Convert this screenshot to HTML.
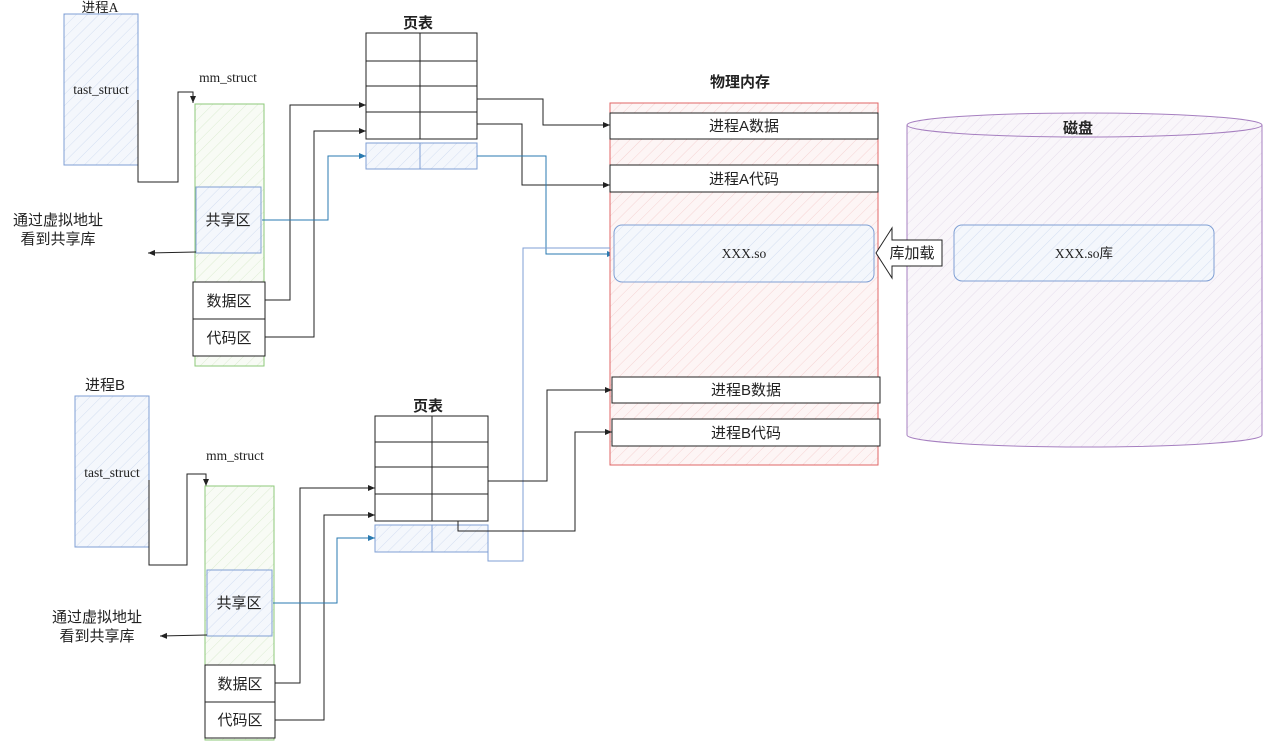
<!DOCTYPE html>
<html><head><meta charset="utf-8"><style>
body{margin:0;background:#fff}
svg{display:block}
text{font-family:"Liberation Sans","Noto Sans CJK SC",sans-serif;font-size:15px;fill:#222}
.s{font-family:"Liberation Serif","Noto Sans CJK SC",serif;font-size:13.5px}
.b{font-weight:bold}
</style></head><body>
<svg width="1265" height="748" viewBox="0 0 1265 748" xmlns="http://www.w3.org/2000/svg">
<defs>
<pattern id="hb" width="8" height="8" patternUnits="userSpaceOnUse" patternTransform="rotate(45)"><rect width="8" height="8" fill="#f4f7fc"/><line x1="0" y1="0" x2="0" y2="8" stroke="#d3def1" stroke-width="1"/></pattern>
<pattern id="hg" width="8" height="8" patternUnits="userSpaceOnUse" patternTransform="rotate(45)"><rect width="8" height="8" fill="#f8fbf5"/><line x1="0" y1="0" x2="0" y2="8" stroke="#dcecd2" stroke-width="1"/></pattern>
<pattern id="hr" width="8" height="8" patternUnits="userSpaceOnUse" patternTransform="rotate(45)"><rect width="8" height="8" fill="#fdf5f5"/><line x1="0" y1="0" x2="0" y2="8" stroke="#f5d3d3" stroke-width="1"/></pattern>
<pattern id="hp" width="8" height="8" patternUnits="userSpaceOnUse" patternTransform="rotate(45)"><rect width="8" height="8" fill="#f9f6fa"/><line x1="0" y1="0" x2="0" y2="8" stroke="#e6ddec" stroke-width="1"/></pattern>
<marker id="a" markerWidth="8" markerHeight="8" refX="7" refY="4" orient="auto" markerUnits="userSpaceOnUse"><path d="M0,1 L7,4 L0,7 Z" fill="#222"/></marker>
<marker id="ab" markerWidth="8" markerHeight="8" refX="7" refY="4" orient="auto" markerUnits="userSpaceOnUse"><path d="M0,1 L7,4 L0,7 Z" fill="#2a7ab0"/></marker>
</defs>

<!-- Process A -->
<text x="100" y="12" text-anchor="middle" class="s">进程A</text>
<rect x="64" y="14" width="74" height="151" fill="url(#hb)" stroke="#7f9fd4"/>
<text x="101" y="94" text-anchor="middle" class="s">tast_struct</text>
<polyline points="138,100 138,182 178,182 178,92 193,92 193,103" fill="none" stroke="#222" marker-end="url(#a)"/>
<text x="228" y="82" text-anchor="middle" class="s">mm_struct</text>
<rect x="195" y="104" width="69" height="262" fill="url(#hg)" stroke="#8ec97a"/>
<rect x="196" y="187" width="65" height="66" fill="url(#hb)" stroke="#7f9fd4"/>
<text x="228" y="225" text-anchor="middle">共享区</text>
<rect x="193" y="282" width="72" height="37" fill="#fff" stroke="#222"/>
<text x="229" y="306" text-anchor="middle">数据区</text>
<rect x="193" y="319" width="72" height="37" fill="#fff" stroke="#222"/>
<text x="229" y="343" text-anchor="middle">代码区</text>
<polyline points="196,252 148,253" fill="none" stroke="#222" marker-end="url(#a)"/>
<text x="58" y="225" text-anchor="middle">通过虚拟地址</text>
<text x="58" y="244" text-anchor="middle">看到共享库</text>

<!-- Page table A -->
<text x="418" y="28" text-anchor="middle" class="b">页表</text>
<g fill="#fff" stroke="#222">
<rect x="366" y="33" width="54" height="28"/><rect x="420" y="33" width="57" height="28"/>
<rect x="366" y="61" width="54" height="25"/><rect x="420" y="61" width="57" height="25"/>
<rect x="366" y="86" width="54" height="26"/><rect x="420" y="86" width="57" height="26"/>
<rect x="366" y="112" width="54" height="27"/><rect x="420" y="112" width="57" height="27"/>
</g>
<rect x="366" y="143" width="54" height="26" fill="url(#hb)" stroke="#7f9fd4"/>
<rect x="420" y="143" width="57" height="26" fill="url(#hb)" stroke="#7f9fd4"/>
<polyline points="265,300 290,300 290,105 366,105" fill="none" stroke="#222" marker-end="url(#a)"/>
<polyline points="265,337 314,337 314,131 366,131" fill="none" stroke="#222" marker-end="url(#a)"/>
<polyline points="262,220 328,220 328,156 366,156" fill="none" stroke="#2a7ab0" marker-end="url(#ab)"/>
<polyline points="477,99 543,99 543,125 610,125" fill="none" stroke="#222" marker-end="url(#a)"/>
<polyline points="477,124 522,124 522,185 610,185" fill="none" stroke="#222" marker-end="url(#a)"/>
<polyline points="477,156 546,156 546,254 614,254" fill="none" stroke="#2a7ab0" marker-end="url(#ab)"/>

<!-- Physical memory -->
<text x="740" y="87" text-anchor="middle" class="b">物理内存</text>
<rect x="610" y="103" width="268" height="362" fill="url(#hr)" stroke="#e06666"/>
<rect x="610" y="113" width="268" height="26" fill="#fff" stroke="#222"/>
<text x="744" y="131" text-anchor="middle">进程A数据</text>
<rect x="610" y="165" width="268" height="27" fill="#fff" stroke="#222"/>
<text x="744" y="184" text-anchor="middle">进程A代码</text>
<rect x="614" y="225" width="260" height="57" rx="8" fill="url(#hb)" stroke="#7f9fd4"/>
<text x="744" y="258" text-anchor="middle" class="s">XXX.so</text>
<rect x="612" y="377" width="268" height="26" fill="#fff" stroke="#222"/>
<text x="746" y="395" text-anchor="middle">进程B数据</text>
<rect x="612" y="419" width="268" height="27" fill="#fff" stroke="#222"/>
<text x="746" y="438" text-anchor="middle">进程B代码</text>

<!-- Disk -->
<path d="M907,125 A177,12 0 0 1 1262,125 L1262,435 A177,12 0 0 1 907,435 Z" fill="url(#hp)" stroke="#a67fc0"/>
<path d="M907,125 A177,12 0 0 0 1262,125" fill="none" stroke="#a67fc0"/>
<text x="1078" y="133" text-anchor="middle" class="b">磁盘</text>
<rect x="954" y="225" width="260" height="56" rx="8" fill="url(#hb)" stroke="#7f9fd4"/>
<text x="1084" y="258" text-anchor="middle" class="s">XXX.so库</text>
<path d="M876,253 L892,228 L892,240 L942,240 L942,266 L892,266 L892,278 Z" fill="#fff" stroke="#222"/>
<text x="912" y="258" text-anchor="middle">库加载</text>

<!-- Process B -->
<text x="105" y="390" text-anchor="middle">进程B</text>
<rect x="75" y="396" width="74" height="151" fill="url(#hb)" stroke="#7f9fd4"/>
<text x="112" y="477" text-anchor="middle" class="s">tast_struct</text>
<polyline points="149,480 149,565 187,565 187,474 206,474 206,486" fill="none" stroke="#222" marker-end="url(#a)"/>
<text x="235" y="460" text-anchor="middle" class="s">mm_struct</text>
<rect x="205" y="486" width="69" height="254" fill="url(#hg)" stroke="#8ec97a"/>
<rect x="207" y="570" width="65" height="66" fill="url(#hb)" stroke="#7f9fd4"/>
<text x="239" y="608" text-anchor="middle">共享区</text>
<rect x="205" y="665" width="70" height="37" fill="#fff" stroke="#222"/>
<text x="240" y="689" text-anchor="middle">数据区</text>
<rect x="205" y="702" width="70" height="36" fill="#fff" stroke="#222"/>
<text x="240" y="725" text-anchor="middle">代码区</text>
<polyline points="207,635 160,636" fill="none" stroke="#222" marker-end="url(#a)"/>
<text x="97" y="622" text-anchor="middle">通过虚拟地址</text>
<text x="97" y="641" text-anchor="middle">看到共享库</text>

<!-- Page table B -->
<text x="428" y="411" text-anchor="middle" class="b">页表</text>
<polyline points="488,552 488,561 523,561 523,248 610,248" fill="none" stroke="#7f9fd4"/>
<g fill="#fff" stroke="#222">
<rect x="375" y="416" width="57" height="26"/><rect x="432" y="416" width="56" height="26"/>
<rect x="375" y="442" width="57" height="25"/><rect x="432" y="442" width="56" height="25"/>
<rect x="375" y="467" width="57" height="27"/><rect x="432" y="467" width="56" height="27"/>
<rect x="375" y="494" width="57" height="27"/><rect x="432" y="494" width="56" height="27"/>
</g>
<rect x="375" y="525" width="57" height="27" fill="url(#hb)" stroke="#7f9fd4"/>
<rect x="432" y="525" width="56" height="27" fill="url(#hb)" stroke="#7f9fd4"/>
<polyline points="275,683 300,683 300,488 375,488" fill="none" stroke="#222" marker-end="url(#a)"/>
<polyline points="275,720 324,720 324,515 375,515" fill="none" stroke="#222" marker-end="url(#a)"/>
<polyline points="273,603 337,603 337,538 375,538" fill="none" stroke="#2a7ab0" marker-end="url(#ab)"/>
<polyline points="488,481 547,481 547,390 612,390" fill="none" stroke="#222" marker-end="url(#a)"/>
<polyline points="458,521 458,531 575,531 575,432 612,432" fill="none" stroke="#222" marker-end="url(#a)"/>
</svg>
</body></html>
